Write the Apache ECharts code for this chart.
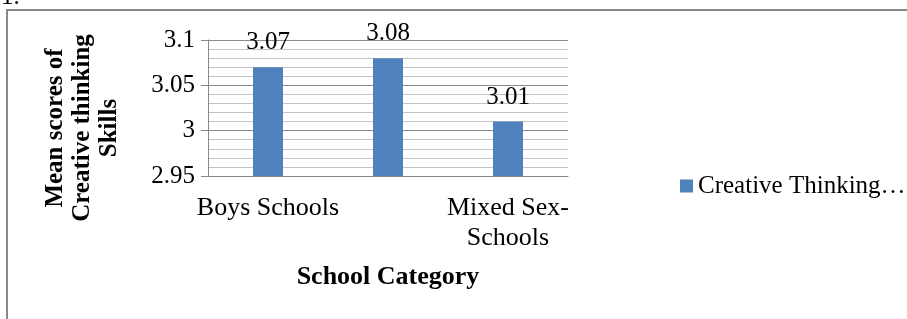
<!DOCTYPE html>
<html>
<head>
<meta charset="utf-8">
<script src="https://cdn.jsdelivr.net/npm/echarts@6/dist/echarts.min.js"></script>
<style>
  html, body { margin: 0; padding: 0; background: #fff; }
  #chart { width: 907px; height: 319px; }
</style>
</head>
<body>
<div id="chart"></div>
<script>
// chart data
const categories = ['Boys Schools', 'Girls Schools', 'Mixed Sex-\nSchools']
const seriesName = 'Creative Thinking Skills'
const meanScores = [3.07, 3.08, 3.01]
const yMin = 2.95
const yMax = 3.1
const yStep = 0.05

const serif = "'Liberation Serif', 'Times New Roman', serif"

const chart = echarts.init(document.getElementById('chart'), null, { renderer: 'canvas' })

chart.setOption({
  animation: false,
  grid: { left: 208, top: 40, right: 339, bottom: 143, containLabel: false, outerBoundsMode: 'none' },
  graphic: [
    {
      type: 'rect',
      shape: { x: 7, y: 10, width: 1000, height: 400 },
      style: { fill: 'none', stroke: '#888', lineWidth: 2 }
    },
    {
      type: 'text',
      left: 1,
      top: -15,
      style: { text: '1.', font: '25px ' + serif, fill: '#000' }
    }
  ],
  legend: {
    left: 675,
    top: 167,
    icon: 'rect',
    itemWidth: 13,
    itemHeight: 13,
    itemGap: 5,
    textStyle: {
      fontFamily: serif,
      fontSize: 25,
      color: '#000',
      lineHeight: 28,
      width: 210,
      overflow: 'truncate',
      ellipsis: '…'
    }
  },
  xAxis: {
    type: 'category',
    data: categories,
    name: 'School Category',
    nameLocation: 'middle',
    nameGap: 88,
    nameTextStyle: { fontFamily: serif, fontSize: 26, fontWeight: 'bold', color: '#000' },
    axisLine: { lineStyle: { color: '#868686', width: 1 } },
    axisTick: { show: false },
    axisLabel: {
      interval: 1,
      margin: 17,
      fontFamily: serif,
      fontSize: 26,
      lineHeight: 30,
      color: '#000'
    }
  },
  yAxis: {
    type: 'value',
    min: yMin,
    max: yMax,
    interval: yStep,
    name: 'Mean scores of\nCreative thinking\nSkills',
    nameLocation: 'middle',
    nameGap: 85,
    nameTextStyle: {
      fontFamily: serif,
      fontSize: 25,
      fontWeight: 'bold',
      color: '#000',
      lineHeight: 27,
      padding: [0, 40, 0, 0]
    },
    axisLine: { show: true, lineStyle: { color: '#868686', width: 1 } },
    axisTick: { show: true, inside: false, length: 7, lineStyle: { color: '#868686' } },
    axisLabel: {
      margin: 13,
      fontFamily: serif,
      fontSize: 25,
      color: '#000',
      formatter: v => String(Math.round(v * 100) / 100)
    },
    splitLine: { lineStyle: { color: '#8a8a8a', width: 1 } },
    minorTick: { show: false, splitNumber: 5 },
    minorSplitLine: { show: true, lineStyle: { color: '#c4c4c4', width: 1 } }
  },
  series: [
    {
      name: seriesName,
      type: 'bar',
      data: meanScores,
      barWidth: '25%',
      itemStyle: { color: '#4F81BD' },
      label: {
        show: true,
        position: 'top',
        distance: 12,
        fontFamily: serif,
        fontSize: 25,
        color: '#000',
        formatter: p => p.value.toFixed(2)
      }
    }
  ]
})
</script>
</body>
</html>
